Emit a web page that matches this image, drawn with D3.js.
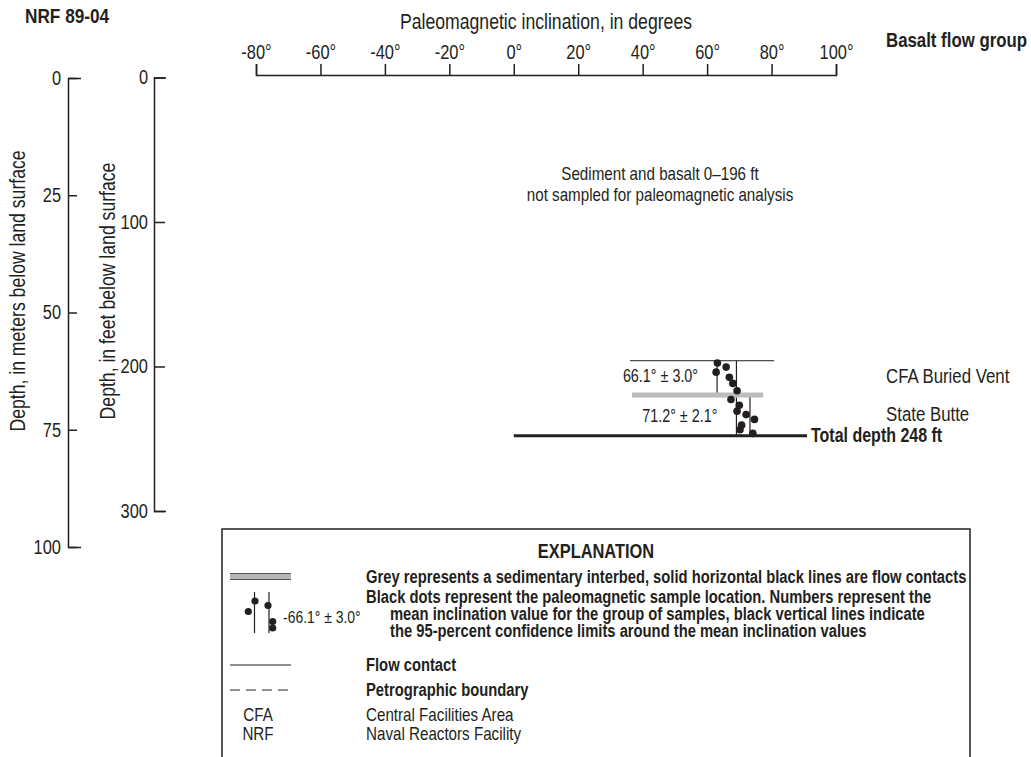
<!DOCTYPE html>
<html><head><meta charset="utf-8">
<script src="https://cdn.jsdelivr.net/npm/d3@7"></script>
<style>
body{margin:0;background:#fff}
svg{display:block}
text{font-family:"Liberation Sans",Arial,sans-serif;fill:#231f20}
</style></head><body>
<svg id="chart" width="1031" height="757"></svg>
<script>
// Tick values for the three axes
const inclinationTicks = [-80, -60, -40, -20, 0, 20, 40, 60, 80, 100];
const meterTicks = [0, 25, 50, 75, 100];
const feetTicks = [0, 100, 200, 300];

// Paleomagnetic samples: depth (ft), inclination (deg), flow group index
const sampleDepthFt = [197.6, 200.4, 203.9, 207.5, 211.7, 216.8, 222.8, 226.9, 230.9, 233.3, 236.6, 240.6, 243.8, 246.3];
const sampleInclination = [63.2, 65.9, 62.8, 66.9, 68.0, 69.3, 67.4, 70.0, 69.3, 72.1, 74.7, 70.7, 70.2, 74.2];
const sampleGroup = [0, 0, 0, 0, 0, 0, 1, 1, 1, 1, 1, 1, 1, 1];

// Flow groups: name, mean inclination, 95% confidence, depth interval (ft)
const groupNames = ["CFA Buried Vent", "State Butte"];
const groupMean = [66.1, 71.2];
const groupCI = [3.0, 2.1];
const groupTopFt = [196, 221.5];
const groupBaseFt = [218, 248];

// Sedimentary interbed (ft) and its extent in inclination units
const interbedFt = [218, 221.5];
const interbedSpan = [36.7, 77.4];

// Flow contact and bottom of hole
const contactDepthFt = [196];
const contactSpan = [36.1, 80.8];
const totalDepthFt = 248;
const totalDepthSpan = [0, 91];

const ink = "#231f20";
const FONT = '"Liberation Sans",Arial,sans-serif';
const svg = d3.select("#chart");

const x = d3.scaleLinear().domain([-80, 100]).range([256, 836]);
const yFt = d3.scaleLinear().domain([0, 300]).range([77.5, 511]);
const yM = d3.scaleLinear().domain([0, 100]).range([78, 547]);

const deg = d => d + "\u00b0";

// Title block
svg.append("text").attr("x", 25).attr("y", 23).attr("font-size", 21).attr("font-weight", "bold").text("NRF 89-04");
svg.append("text").attr("x", 886).attr("y", 47).attr("font-size", 20.5).attr("font-weight", "bold").text("Basalt flow group");
svg.append("text").attr("x", 546).attr("y", 29).attr("text-anchor", "middle").attr("font-size", 21.5)
  .text("Paleomagnetic inclination, in degrees");

function styleAxis(g, size) {
  g.select(".domain").attr("stroke", ink).attr("stroke-width", 1.5);
  g.selectAll(".tick line").attr("stroke", ink).attr("stroke-width", 1.5);
  g.selectAll(".tick text").attr("fill", ink).attr("font-size", size).attr("font-family", FONT);
}

// Inclination axis (top)
const gx = svg.append("g").attr("transform", "translate(0,75)")
  .call(d3.axisTop(x).tickValues(inclinationTicks).tickSize(11).tickSizeOuter(11).tickPadding(5).tickFormat(deg));
styleAxis(gx, 20);

// Depth in meters
const gm = svg.append("g").attr("transform", "translate(68,0)")
  .call(d3.axisRight(yM).tickValues(meterTicks).tickSize(9).tickSizeOuter(13));
styleAxis(gm, 20);
gm.selectAll(".tick text").attr("x", -7).attr("text-anchor", "end");

// Depth in feet
const gf = svg.append("g").attr("transform", "translate(154,0)")
  .call(d3.axisRight(yFt).tickValues(feetTicks).tickSize(11).tickSizeOuter(12));
styleAxis(gf, 20);
gf.selectAll(".tick text").attr("x", -6).attr("text-anchor", "end");

svg.append("text").attr("transform", "translate(25,291) rotate(-90)").attr("text-anchor", "middle")
  .attr("font-size", 21.5).text("Depth, in meters below land surface");
svg.append("text").attr("transform", "translate(115,291) rotate(-90)").attr("text-anchor", "middle")
  .attr("font-size", 21.5).text("Depth, in feet below land surface");

// Unsampled interval note
svg.append("text").attr("x", 660).attr("y", 180).attr("text-anchor", "middle").attr("font-size", 18.5)
  .text("Sediment and basalt 0\u2013196 ft");
svg.append("text").attr("x", 660).attr("y", 201).attr("text-anchor", "middle").attr("font-size", 18.5)
  .text("not sampled for paleomagnetic analysis");

// Interbed
svg.append("rect")
  .attr("x", x(interbedSpan[0])).attr("width", x(interbedSpan[1]) - x(interbedSpan[0]))
  .attr("y", yFt(interbedFt[0])).attr("height", yFt(interbedFt[1]) - yFt(interbedFt[0]))
  .attr("fill", "#bcbcbc");

// Flow contacts
svg.selectAll(".contact").data(contactDepthFt).join("line").attr("class", "contact")
  .attr("x1", x(contactSpan[0])).attr("x2", x(contactSpan[1]))
  .attr("y1", d => yFt(d)).attr("y2", d => yFt(d))
  .attr("stroke", ink).attr("stroke-width", 1);

// Confidence limits, mean labels and flow-group names
groupMean.forEach((m, i) => {
  [m - groupCI[i], m + groupCI[i]].forEach(v => {
    svg.append("line").attr("x1", x(v)).attr("x2", x(v))
      .attr("y1", yFt(groupTopFt[i])).attr("y2", yFt(groupBaseFt[i]))
      .attr("stroke", ink).attr("stroke-width", 1.2);
  });
  const yMid = yFt((groupTopFt[i] + groupBaseFt[i]) / 2);
  svg.append("text").attr("x", x(m - groupCI[i]) - 19).attr("y", yMid).attr("dy", "0.33em")
    .attr("text-anchor", "end").attr("font-size", 17.5)
    .text(`${m.toFixed(1)}\u00b0 \u00b1 ${groupCI[i].toFixed(1)}\u00b0`);
  svg.append("text").attr("x", 886).attr("y", yMid).attr("dy", i === 0 ? "0.3em" : "0.2em")
    .attr("font-size", 20.5).text(groupNames[i]);
});

// Total depth
svg.append("line").attr("x1", x(totalDepthSpan[0])).attr("x2", x(totalDepthSpan[1]))
  .attr("y1", yFt(totalDepthFt)).attr("y2", yFt(totalDepthFt))
  .attr("stroke", ink).attr("stroke-width", 3);
svg.append("text").attr("x", x(totalDepthSpan[1]) + 4).attr("y", yFt(totalDepthFt)).attr("dy", "0.3em")
  .attr("font-size", 19.5).attr("font-weight", "bold").text(`Total depth ${totalDepthFt} ft`);

// Samples
svg.selectAll(".sample").data(sampleDepthFt).join("circle").attr("class", "sample")
  .attr("cx", (d, i) => x(sampleInclination[i])).attr("cy", d => yFt(d))
  .attr("r", 3.8).attr("fill", ink);

// Explanation
const lg = svg.append("g");
lg.append("rect").attr("x", 222).attr("y", 529).attr("width", 748).attr("height", 260)
  .attr("fill", "none").attr("stroke", ink).attr("stroke-width", 1.5);
lg.append("text").attr("x", 596).attr("y", 558).attr("text-anchor", "middle").attr("font-size", 20)
  .attr("font-weight", "bold").text("EXPLANATION");

// interbed symbol
lg.append("rect").attr("x", 230).attr("y", 573.5).attr("width", 61).attr("height", 6).attr("fill", "#b5b5b5");
lg.append("line").attr("x1", 230).attr("x2", 291).attr("y1", 573.5).attr("y2", 573.5).attr("stroke", "#555").attr("stroke-width", 1);
lg.append("line").attr("x1", 230).attr("x2", 291).attr("y1", 579.5).attr("y2", 579.5).attr("stroke", "#555").attr("stroke-width", 1);

const bold = (t, xx, yy) => lg.append("text").attr("x", xx).attr("y", yy).attr("font-size", 18).attr("font-weight", "bold").text(t);
const plain = (t, xx, yy, anchor) => lg.append("text").attr("x", xx).attr("y", yy).attr("font-size", 18.5)
  .attr("text-anchor", anchor || "start").text(t);

bold("Grey represents a sedimentary interbed, solid horizontal black lines are flow contacts", 366, 583);
bold("Black dots represent the paleomagnetic sample location. Numbers represent the", 366, 603);
bold("mean inclination value for the group of samples, black vertical lines indicate", 390, 620);
bold("the 95-percent confidence limits around the mean inclination values", 390, 637);

// sample symbol
[254.5, 269].forEach(xx => lg.append("line").attr("x1", xx).attr("x2", xx).attr("y1", 592).attr("y2", 633)
  .attr("stroke", ink).attr("stroke-width", 1.2));
[[248.3, 611.5], [255, 601], [268, 605.5], [272.7, 621.5], [272.7, 628]].forEach(p =>
  lg.append("circle").attr("cx", p[0]).attr("cy", p[1]).attr("r", 3.6).attr("fill", ink));
lg.append("text").attr("x", 283).attr("y", 623).attr("font-size", 17).text("-66.1\u00b0 \u00b1 3.0\u00b0");

lg.append("line").attr("x1", 230).attr("x2", 291).attr("y1", 665).attr("y2", 665).attr("stroke", ink).attr("stroke-width", 1);
bold("Flow contact", 366, 671);
lg.append("line").attr("x1", 230).attr("x2", 291).attr("y1", 690).attr("y2", 690).attr("stroke", ink)
  .attr("stroke-width", 1).attr("stroke-dasharray", "10,6");
bold("Petrographic boundary", 366, 696);
plain("CFA", 258, 721, "middle");
plain("Central Facilities Area", 366, 721);
plain("NRF", 258, 740, "middle");
plain("Naval Reactors Facility", 366, 740);

// Condensed lettering: narrow every label horizontally
svg.selectAll("text").each(function () {
  const w = this.getComputedTextLength();
  d3.select(this).attr("textLength", (w * 0.82).toFixed(1)).attr("lengthAdjust", "spacingAndGlyphs");
});
</script>
</body></html>
